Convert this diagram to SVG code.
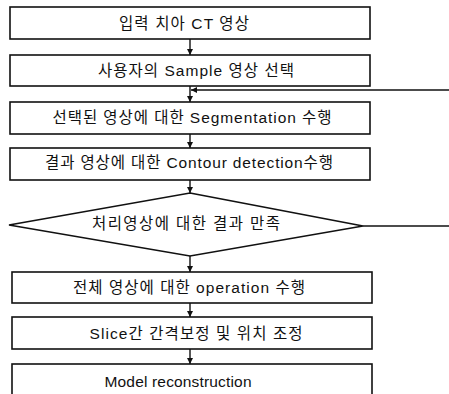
<svg xmlns="http://www.w3.org/2000/svg" width="449" height="394" viewBox="0 0 449 394">
<style>
.box{fill:#fff;stroke:#111;stroke-width:1.6}
.ln{fill:none;stroke:#111;stroke-width:1.4}
.t{font-family:"Liberation Sans","Noto Sans CJK KR",sans-serif;font-size:15.5px;fill:#111;text-anchor:middle;dominant-baseline:central}
</style>
<defs>
<marker id="ah" viewBox="0 0 10 10" refX="10" refY="5" markerWidth="6" markerHeight="6" markerUnits="userSpaceOnUse" orient="auto">
<path d="M0,0 L10,5 L0,10 z" fill="#111"/>
</marker>
</defs>
<rect width="449" height="394" fill="#fff"/>
<g id="connectors">
<path class="ln" d="M190,39 V55" marker-end="url(#ah)"/>
<path class="ln" d="M190,86 V102" marker-end="url(#ah)"/>
<path class="ln" d="M449,90 H191" marker-end="url(#ah)"/>
<path class="ln" d="M190,134 V148" marker-end="url(#ah)"/>
<path class="ln" d="M190,180 V193" marker-end="url(#ah)"/>
<path class="ln" d="M363,226 H449"/>
<path class="ln" d="M190,256 V272" marker-end="url(#ah)"/>
<path class="ln" d="M190,303 V317" marker-end="url(#ah)"/>
<path class="ln" d="M190,349 V364" marker-end="url(#ah)"/>
</g>
<g id="n1"><rect class="box" x="10" y="7" width="360" height="32"/><text class="t" x="184" y="23" textLength="130" lengthAdjust="spacing">입력 치아 CT 영상</text></g>
<g id="n2"><rect class="box" x="10" y="55" width="360" height="31"/><text class="t" x="196" y="70" textLength="196" lengthAdjust="spacing">사용자의 Sample 영상 선택</text></g>
<g id="n3"><rect class="box" x="10" y="102" width="360" height="32"/><text class="t" x="192" y="117" textLength="279" lengthAdjust="spacing">선택된 영상에 대한 Segmentation 수행</text></g>
<g id="n4"><rect class="box" x="10" y="148" width="360" height="32"/><text class="t" x="189" y="162" textLength="288" lengthAdjust="spacing">결과 영상에 대한 Contour detection수행</text></g>
<g id="n5"><polygon class="box" points="190,193 363,226 190,256 9,225"/><text class="t" x="186" y="223" textLength="188" lengthAdjust="spacing">처리영상에 대한 결과 만족</text></g>
<g id="n6"><rect class="box" x="12" y="272" width="360" height="31"/><text class="t" x="189" y="287" textLength="232" lengthAdjust="spacing">전체 영상에 대한 operation 수행</text></g>
<g id="n7"><rect class="box" x="12" y="317" width="360" height="32"/><text class="t" x="196" y="333" textLength="213" lengthAdjust="spacing">Slice간 간격보정 및 위치 조정</text></g>
<g id="n8"><rect class="box" x="12" y="364" width="360" height="40"/><text class="t" x="178" y="381" textLength="147" lengthAdjust="spacing">Model reconstruction</text></g>
</svg>
